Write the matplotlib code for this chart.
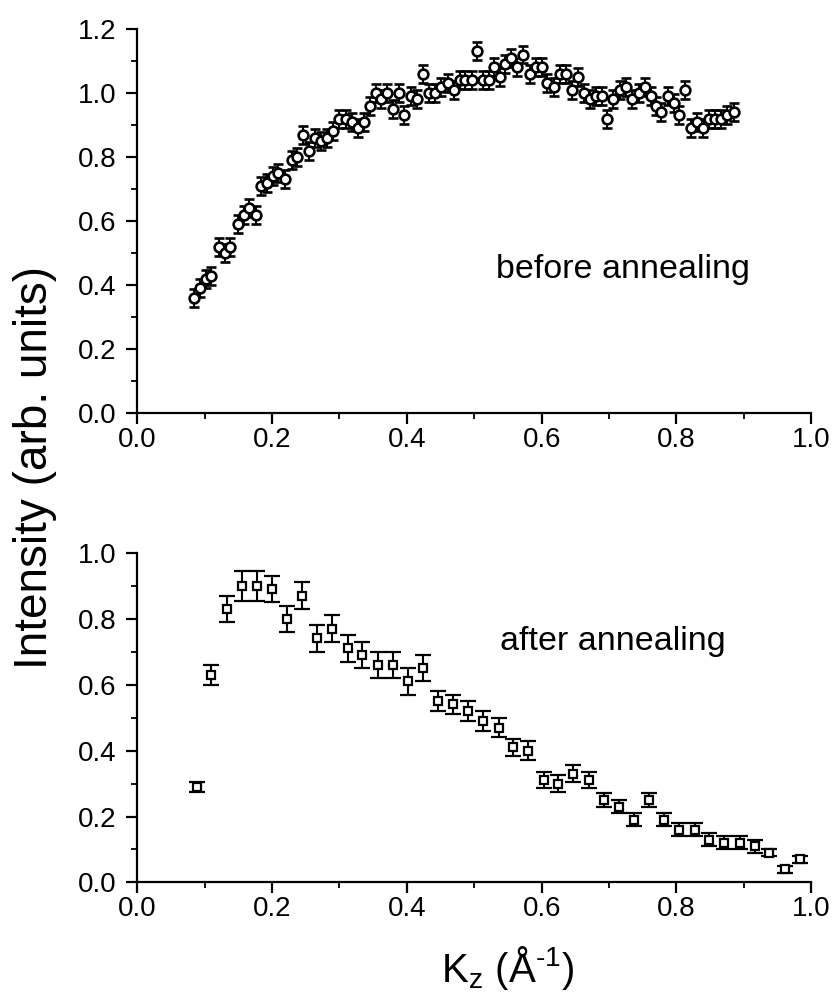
import numpy as np
import matplotlib.pyplot as plt
from matplotlib.ticker import MultipleLocator

plt.rcParams['font.family'] = ['Liberation Sans', 'DejaVu Sans']

# before annealing (top)
kz_before = [0.084, 0.093, 0.102, 0.110, 0.121, 0.130, 0.138, 0.149, 0.158, 0.166,
             0.176, 0.184, 0.193, 0.201, 0.209, 0.219, 0.229, 0.237, 0.246, 0.255,
             0.263, 0.272, 0.282, 0.291, 0.300, 0.309, 0.318, 0.327, 0.336, 0.345,
             0.354, 0.362, 0.370, 0.379, 0.388, 0.396, 0.406, 0.415, 0.424, 0.433,
             0.442, 0.451, 0.461, 0.470, 0.479, 0.487, 0.496, 0.504, 0.513, 0.522,
             0.530, 0.538, 0.546, 0.555, 0.564, 0.573, 0.582, 0.591, 0.600, 0.608,
             0.618, 0.627, 0.636, 0.645, 0.654, 0.663, 0.672, 0.681, 0.689, 0.697,
             0.706, 0.716, 0.725, 0.734, 0.745, 0.754, 0.762, 0.769, 0.777, 0.787,
             0.796, 0.804, 0.813, 0.821, 0.830, 0.840, 0.848, 0.857, 0.866, 0.875,
             0.885]
int_before = [0.36, 0.39, 0.42, 0.43, 0.52, 0.50, 0.52, 0.59, 0.62, 0.64,
              0.62, 0.71, 0.72, 0.74, 0.75, 0.73, 0.79, 0.80, 0.87, 0.82,
              0.86, 0.85, 0.86, 0.88, 0.92, 0.92, 0.91, 0.89, 0.91, 0.96,
              1.00, 0.98, 1.00, 0.95, 1.00, 0.93, 0.99, 0.98, 1.06, 1.00,
              1.00, 1.02, 1.03, 1.01, 1.04, 1.04, 1.04, 1.13, 1.04, 1.04,
              1.08, 1.05, 1.09, 1.11, 1.08, 1.12, 1.06, 1.08, 1.08, 1.03,
              1.02, 1.06, 1.06, 1.01, 1.05, 1.00, 0.98, 0.99, 0.99, 0.92,
              0.98, 1.01, 1.02, 0.98, 1.00, 1.02, 0.99, 0.96, 0.94, 0.99,
              0.97, 0.93, 1.01, 0.89, 0.91, 0.89, 0.92, 0.92, 0.92, 0.93,
              0.94]
err_before = 0.028

# after annealing (bottom)
kz_after = [0.088, 0.110, 0.133, 0.155, 0.178, 0.200, 0.222, 0.245, 0.267, 0.289,
            0.312, 0.334, 0.357, 0.379, 0.401, 0.424, 0.446, 0.468, 0.491, 0.513,
            0.536, 0.558, 0.580, 0.603, 0.625, 0.647, 0.670, 0.692, 0.715, 0.737,
            0.759, 0.782, 0.804, 0.827, 0.849, 0.871, 0.894, 0.916, 0.938, 0.961,
            0.983]
int_after = [0.29, 0.63, 0.83, 0.90, 0.90, 0.89, 0.80, 0.87, 0.74, 0.77,
             0.71, 0.69, 0.66, 0.66, 0.61, 0.65, 0.55, 0.54, 0.52, 0.49,
             0.47, 0.41, 0.40, 0.31, 0.30, 0.33, 0.31, 0.25, 0.23, 0.19,
             0.25, 0.19, 0.16, 0.16, 0.13, 0.12, 0.12, 0.11, 0.09, 0.04,
             0.07]
err_after = [0.015, 0.03, 0.04, 0.045, 0.045, 0.04, 0.04, 0.04, 0.04, 0.04,
             0.04, 0.04, 0.04, 0.04, 0.04, 0.04, 0.03, 0.03, 0.03, 0.03,
             0.03, 0.025, 0.03, 0.025, 0.025, 0.025, 0.025, 0.02, 0.02, 0.02,
             0.02, 0.02, 0.02, 0.02, 0.02, 0.02, 0.02, 0.02, 0.01, 0.01,
             0.01]

fig = plt.figure(figsize=(8.32, 9.96), dpi=100)
ax1 = fig.add_axes([0.165, 0.585, 0.81, 0.386])
ax2 = fig.add_axes([0.165, 0.114, 0.81, 0.331])


def style(ax, ymax):
    ax.set_xlim(0, 1.0)
    ax.set_ylim(0, ymax)
    for s in ['top', 'right']:
        ax.spines[s].set_visible(False)
    for s in ['left', 'bottom']:
        ax.spines[s].set_linewidth(1.6)
    ax.xaxis.set_major_locator(MultipleLocator(0.2))
    ax.xaxis.set_minor_locator(MultipleLocator(0.1))
    ax.yaxis.set_major_locator(MultipleLocator(0.2))
    ax.yaxis.set_minor_locator(MultipleLocator(0.1))
    ax.tick_params(which='major', direction='out', length=8, width=1.6,
                   labelsize=20)
    ax.tick_params(axis='y', which='major', pad=7)
    ax.tick_params(axis='x', which='major', pad=2)
    ax.tick_params(which='minor', direction='out', length=4.5, width=1.3)
    ax.xaxis.set_major_formatter(plt.FormatStrFormatter('%.1f'))
    ax.yaxis.set_major_formatter(plt.FormatStrFormatter('%.1f'))


style(ax1, 1.2)
style(ax2, 1.0)

ax1.errorbar(kz_before, int_before, yerr=err_before, fmt='o', ms=7, mfc='white',
             mec='black', mew=1.9, ecolor='black', elinewidth=1.4, capsize=3.5,
             capthick=1.4, clip_on=False)
ax2.errorbar(kz_after, int_after, yerr=err_after, fmt='s', ms=5.5, mfc='white',
             mec='black', mew=1.6, ecolor='black', elinewidth=1.5, capsize=6,
             capthick=1.5, clip_on=False)

ax1.text(0.533, 0.45, 'before annealing', fontsize=24.5, ha='left', va='center')
ax2.text(0.538, 0.73, 'after annealing', fontsize=24.5, ha='left', va='center')

fig.text(0.042, 0.531, 'Intensity (arb. units)', fontsize=33, rotation=90,
         ha='center', va='center')
# u2010 hyphen so the exponent shows "-1" and not a long minus
fig.text(0.61, 0.028, 'K$_\\mathregular{z}$ (Å$^\\mathregular{\u20101}$)',
         fontsize=29, ha='center', va='center')

fig.savefig('out.png', dpi=100)
